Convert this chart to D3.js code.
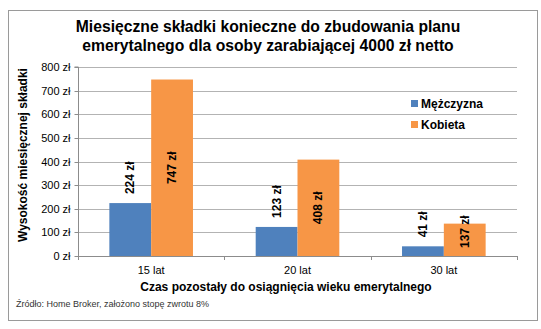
<!DOCTYPE html>
<html><head><meta charset="utf-8">
<script src="https://cdn.jsdelivr.net/npm/d3@7"></script>
<style>body{margin:0;background:#fff}svg{display:block;font-family:"Liberation Sans",Arial,sans-serif}</style>
</head><body><svg id="c" width="541" height="329"></svg>
<script>
const categories = ["15 lat", "20 lat", "30 lat"];
const seriesNames = ["Mężczyzna", "Kobieta"];
const men = [224, 123, 41];
const women = [747, 408, 137];
const yTicks = [0, 100, 200, 300, 400, 500, 600, 700, 800];
const colors = ["#4f81bd", "#f79646"];

const svg = d3.select("#c");
svg.append("rect").attr("x", 8.5).attr("y", 10.5).attr("width", 529).attr("height", 310)
  .attr("fill", "#fff").attr("stroke", "#9a9a9a");

const m = {l: 78, r: 517, t: 67, b: 256};
const x = d3.scaleBand().domain(categories).range([m.l, m.r]);
const x1 = d3.scaleBand().domain(seriesNames).range([0, x.bandwidth()]).paddingOuter(0.75);
const y = d3.scaleLinear().domain([0, 800]).range([m.b, m.t]);

// grid
svg.append("g").selectAll("line").data(yTicks.filter(d => d > 0)).join("line")
  .attr("x1", m.l).attr("x2", m.r).attr("y1", d => Math.round(y(d)) + 0.5).attr("y2", d => Math.round(y(d)) + 0.5)
  .attr("stroke", "#b3b3b3");

// y axis
const ya = svg.append("g").attr("transform", `translate(${m.l + 0.5},0)`)
  .call(d3.axisLeft(y).tickValues(yTicks).tickSize(4).tickPadding(4).tickFormat(d => d + " zł"));
ya.select(".domain").attr("stroke", "#8c8c8c").attr("d", `M-4,${m.t}H0V${m.b}`);
ya.selectAll(".tick line").attr("stroke", "#8c8c8c");
ya.selectAll(".tick text").attr("font-size", 11).attr("fill", "#000").attr("font-family", "Liberation Sans, Arial, sans-serif");
ya.selectAll(".tick").attr("transform", d => `translate(0,${Math.round(y(d)) + 0.5})`);

// x axis
const xa = svg.append("g").attr("transform", `translate(0,${m.b + 0.5})`)
  .call(d3.axisBottom(x).tickSize(0).tickPadding(10));
xa.select(".domain").attr("stroke", "#8c8c8c").attr("d", `M${m.l},0H${m.r}`);
xa.selectAll(".tick text").attr("font-size", 11).attr("fill", "#000").attr("font-family", "Liberation Sans, Arial, sans-serif");
const bounds = categories.map(c => x(c)).concat([m.r]);
svg.append("g").selectAll("line").data(bounds).join("line")
  .attr("x1", d => Math.round(d) + 0.5).attr("x2", d => Math.round(d) + 0.5)
  .attr("y1", m.b).attr("y2", m.b + 4).attr("stroke", "#8c8c8c");

// bars
const data = [];
categories.forEach((c, i) => {
  data.push({c, s: seriesNames[0], v: men[i], k: 0});
  data.push({c, s: seriesNames[1], v: women[i], k: 1});
});
svg.append("g").selectAll("rect").data(data).join("rect")
  .attr("x", d => x(d.c) + x1(d.s)).attr("width", x1.bandwidth())
  .attr("y", d => y(d.v)).attr("height", d => y(0) - y(d.v))
  .attr("fill", d => colors[d.k]);

// labels
const lab = svg.append("g").selectAll("text").data(data).join("text")
  .attr("font-size", 12).attr("font-weight", "bold").attr("fill", "#000")
  .attr("dominant-baseline", "central")
  .text(d => d.v + " zł");
lab.each(function(d) {
  const len = this.getComputedTextLength();
  const cx = x(d.c) + x1(d.s) + x1.bandwidth() / 2;
  let cy, anchor;
  if (d.k === 0) {
    cy = y(d.v) - 9; anchor = "start";
  } else {
    cy = Math.min((y(d.v) + y(0)) / 2, y(0) - len / 2 - 8); anchor = "middle";
  }
  d3.select(this).attr("text-anchor", anchor)
    .attr("transform", `translate(${cx},${cy}) rotate(-90)`);
});

// title
const t = svg.append("text").attr("x", 268).attr("font-size", 15.7).attr("font-weight", "bold").attr("text-anchor", "middle");
t.append("tspan").attr("x", 268).attr("y", 32).text("Miesięczne składki konieczne do zbudowania planu");
t.append("tspan").attr("x", 268).attr("y", 51).text("emerytalnego dla osoby zarabiającej 4000 zł netto");

// axis titles
svg.append("text").attr("transform", "translate(27,155) rotate(-90)").attr("text-anchor", "middle")
  .attr("font-size", 12).attr("font-weight", "bold").text("Wysokość miesięcznej składki");
svg.append("text").attr("x", 286).attr("y", 291).attr("text-anchor", "middle")
  .attr("font-size", 12).attr("font-weight", "bold").text("Czas pozostały do osiągnięcia wieku emerytalnego");

// source
svg.append("text").attr("x", 16).attr("y", 307).attr("font-size", 9).attr("fill", "#333")
  .text("Źródło: Home Broker, założono stopę zwrotu 8%");

// legend
const lg = svg.append("g").selectAll("g").data(seriesNames).join("g")
  .attr("transform", (d, i) => `translate(411,${100 + i * 21})`);
lg.append("rect").attr("width", 7).attr("height", 7).attr("fill", (d, i) => colors[i]);
lg.append("text").attr("x", 10).attr("y", 8).attr("font-size", 12).attr("font-weight", "bold").text(d => d);
</script></body></html>
